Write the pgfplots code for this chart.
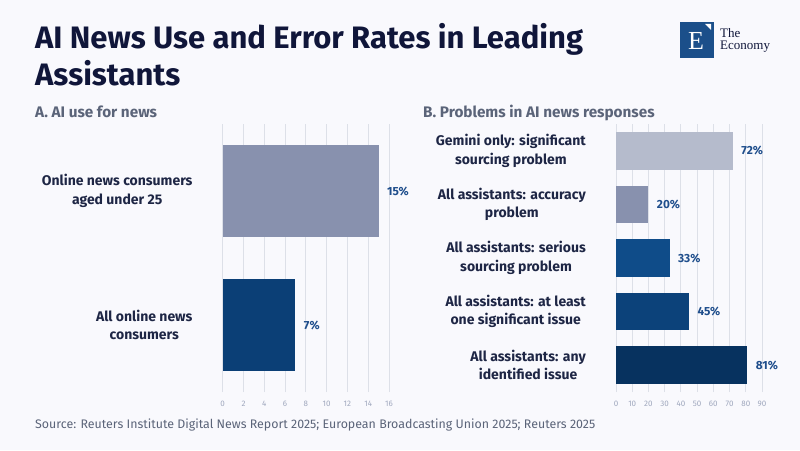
\documentclass[border=0pt]{standalone}
\usepackage{pgfplots}
\pgfplotsset{compat=1.18}
\usepackage{fontspec}
\setmainfont{Fira Sans}
\newfontfamily\seriffont{Liberation Serif}
\definecolor{bg}{HTML}{F9F9FD}
\definecolor{titlec}{HTML}{10163A}
\definecolor{subc}{HTML}{5B6479}
\definecolor{catc}{HTML}{1E2645}
\definecolor{valc}{HTML}{1F4E8C}
\definecolor{tickc}{HTML}{A0A8BE}
\definecolor{gridc}{HTML}{DDE0E8}
\definecolor{cA}{HTML}{B5BBCC}
\definecolor{cB}{HTML}{8891AE}
\definecolor{cC}{HTML}{0F4C89}
\definecolor{cD}{HTML}{0C427A}
\definecolor{cE}{HTML}{07325F}
\definecolor{cF}{HTML}{0B3F76}
\definecolor{logoc}{HTML}{1B4F8A}
\pgfplotsset{
  mybar/.style={
    xbar, bar shift=0pt, scale only axis, height=268pt,
    ymin=-0.5, ymax=(#1)-0.5,
    xmin=0,
    axis line style={draw=none},
    major tick length=0pt,
    tick style={draw=none},
    xmajorgrids, major grid style={gridc, line width=0.8pt},
    ymajorgrids=false,
    ytick={0,...,10},
    yticklabel style={align=center, inner sep=0pt, xshift=-30pt, font=\bfseries\fontsize{14}{18.3}\selectfont, text=catc},
    xticklabel style={inner sep=0pt, yshift=-9pt, font=\fontsize{8}{9}\selectfont, text=tickc},
    /pgf/number format/assume math mode=true,
    nodes near coords={\pgfmathprintnumber{\pgfplotspointmeta}\%},
    nodes near coords style={anchor=west, xshift=5pt, font=\bfseries\fontsize{11.8}{13}\selectfont, text=valc},
    point meta=x,
    clip=false,
  }
}
\begin{document}
\begin{tikzpicture}[x=1pt,y=1pt]
\fill[bg] (0,0) rectangle (800,450);
% Title
\node[anchor=base west, inner sep=0pt, text=titlec, font=\bfseries\fontsize{31}{37}\selectfont] at (35,401.7) {AI News Use and Error Rates in Leading};
\node[anchor=base west, inner sep=0pt, text=titlec, font=\bfseries\fontsize{31}{37}\selectfont] at (35,364) {Assistants};
% Subtitles
\node[anchor=base west, inner sep=0pt, text=subc, font=\bfseries\fontsize{15.3}{17}\selectfont] at (35,332.3) {A. AI use for news};
\node[anchor=base west, inner sep=0pt, text=subc, font=\bfseries\fontsize{15.3}{17}\selectfont] at (423,332.3) {B. Problems in AI news responses};
% Source
\node[anchor=base west, inner sep=0pt, text=subc, font=\fontsize{12.4}{14}\selectfont] at (35,22) {Source: Reuters Institute Digital News Report 2025; European Broadcasting Union 2025; Reuters 2025};
% Logo
\fill[logoc] (680,392) rectangle (714,428);
\node[text=white, font=\seriffont\fontsize{26}{26}\selectfont, inner sep=0pt] at (696,409) {E};
\fill[white] (705,426) -- (711,426) -- (711,420) -- cycle;
\node[anchor=base west, inner sep=0pt, text=titlec, font=\seriffont\fontsize{13}{13}\selectfont] at (720,412.5) {The};
\node[anchor=base west, inner sep=0pt, text=titlec, font=\seriffont\fontsize{13}{13}\selectfont] at (720,400.5) {Economy};

% Left panel
\begin{axis}[mybar=2, at={(222.7pt,58pt)}, anchor=south west, width=166.3pt,
  xmax=16, xtick={0,2,...,16}, bar width=0.69,
  yticklabels={{All online news\\consumers},{Online news consumers\\aged under 25}}]
\addplot[fill=cF, draw=none] coordinates {(7,0)};
\addplot[fill=cB, draw=none] coordinates {(15,1)};
\end{axis}

% Right panel
\begin{axis}[mybar=5, at={(616pt,58pt)}, anchor=south west, width=146pt,
  xmax=90, xtick={0,10,...,90}, bar width=0.70,
  yticklabels={{All assistants: any\\identified issue},{All assistants: at least\\one significant issue},{All assistants: serious\\sourcing problem},{All assistants: accuracy\\problem},{Gemini only: significant\\sourcing problem}}]
\addplot[fill=cE, draw=none] coordinates {(81,0)};
\addplot[fill=cD, draw=none] coordinates {(45,1)};
\addplot[fill=cC, draw=none] coordinates {(33,2)};
\addplot[fill=cB, draw=none] coordinates {(20,3)};
\addplot[fill=cA, draw=none] coordinates {(72,4)};
\end{axis}
\end{tikzpicture}
\end{document}
